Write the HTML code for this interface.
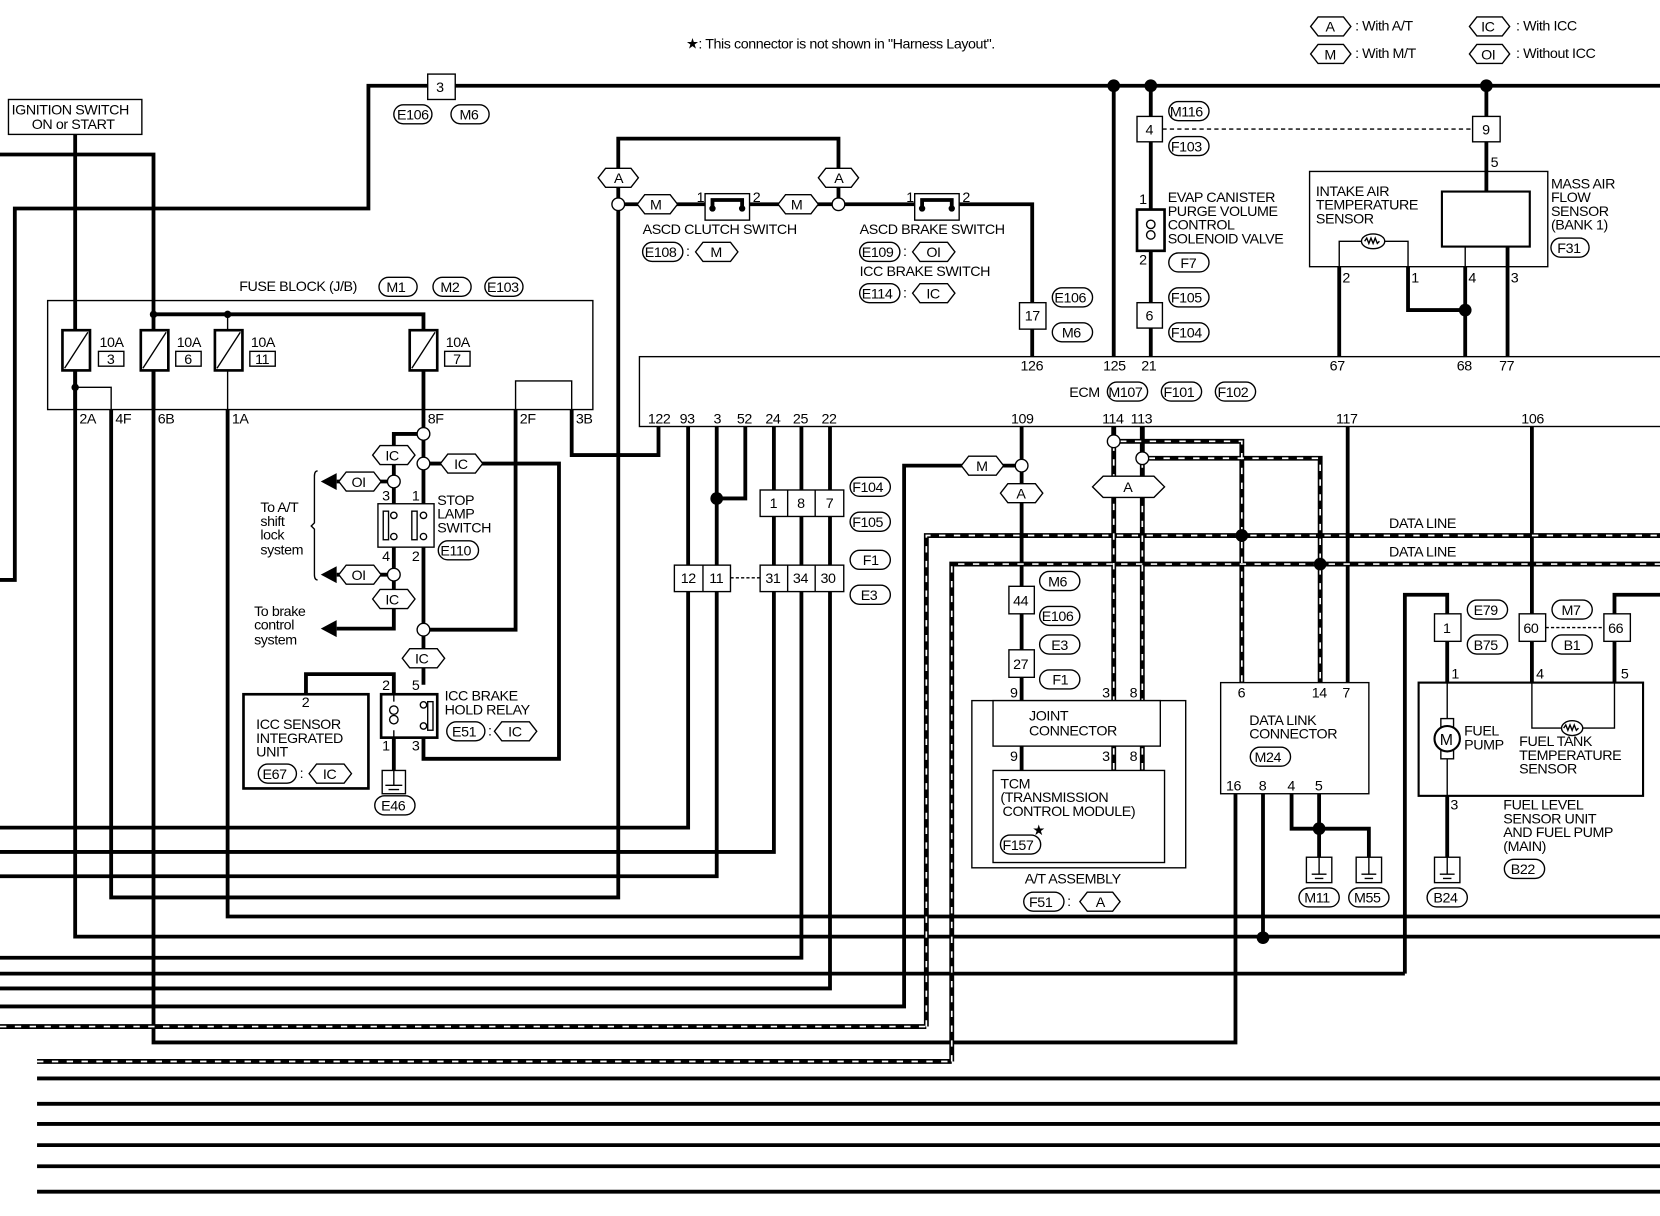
<!DOCTYPE html>
<html><head><meta charset="utf-8"><style>
html,body{margin:0;padding:0;background:#fff}
svg{display:block}
text{font-family:"Liberation Sans",sans-serif;font-size:13px;fill:#000;letter-spacing:-0.4px}
.s{font-size:13.5px}
.t{stroke:#000;stroke-width:3.6;fill:none}
.n{stroke:#000;stroke-width:1.3;fill:none}
.b{stroke:#000;stroke-width:1.3;fill:#fff}
.dl{stroke:#000;stroke-width:4.6;fill:none}
.dw{stroke:#fff;stroke-width:1.6;fill:none;stroke-dasharray:6 8}
</style></head><body>
<svg width="1660" height="1216" viewBox="0 0 1568 1149" preserveAspectRatio="none" xmlns="http://www.w3.org/2000/svg">
<!-- legend -->
<text x="648" y="46" class="s">★: This connector is not shown in "Harness Layout".</text>
<polygon class="b" points="1238,25 1245,16 1269,16 1276,25 1269,34 1245,34"/><text x="1252" y="30" class="s">A</text><text x="1280" y="29" class="s">: With A/T</text>
<polygon class="b" points="1238,51 1245,42 1269,42 1276,51 1269,60 1245,60"/><text x="1251" y="56" class="s">M</text><text x="1280" y="55" class="s">: With M/T</text>
<polygon class="b" points="1388,25 1395,16 1419,16 1426,25 1419,34 1395,34"/><text x="1399" y="30" class="s">IC</text><text x="1432" y="29" class="s">: With ICC</text>
<polygon class="b" points="1388,51 1395,42 1419,42 1426,51 1419,60 1395,60"/><text x="1399" y="56" class="s">OI</text><text x="1432" y="55" class="s">: Without ICC</text>

<!-- top bus -->
<path class="t" d="M0,548 H14 V197 H348 V81 H1568"/>
<rect class="b" x="404" y="70" width="26" height="24"/><text x="412" y="87" class="s">3</text>
<rect class="b" x="372" y="99" width="36" height="18" rx="9"/><text x="375" y="113" class="s">E106</text>
<rect class="b" x="426" y="99" width="36" height="18" rx="9"/><text x="434" y="113" class="s">M6</text>
<circle cx="1052" cy="81" r="6"/><circle cx="1087" cy="81" r="6"/><circle cx="1404" cy="81" r="6"/>

<!-- ignition -->
<rect class="n" x="8" y="94" width="126" height="33"/>
<text x="11" y="108" class="s">IGNITION SWITCH</text><text x="30" y="122" class="s">ON or START</text>
<path class="t" d="M71,127 V885 H1568"/>
<path class="t" d="M0,146 H145 V985 H1167 V750"/>

<!-- fuse block -->
<text x="226" y="275" class="s">FUSE BLOCK (J/B)</text>
<rect class="b" x="358" y="262" width="36" height="18" rx="9"/><text x="365" y="276" class="s">M1</text>
<rect class="b" x="409" y="262" width="36" height="18" rx="9"/><text x="416" y="276" class="s">M2</text>
<rect class="b" x="458" y="262" width="36" height="18" rx="9"/><text x="460" y="276" class="s">E103</text>
<rect class="n" x="45" y="284" width="515" height="103"/>
<path class="t" d="M145,297 H400 V312"/>
<circle cx="145" cy="297" r="3.5"/><circle cx="215" cy="297" r="3.5"/>
<path class="n" d="M215,297 V312"/>
<g>
<rect class="b" x="59" y="312" width="26" height="38" style="stroke-width:2.5"/><line class="n" x1="61" y1="348" x2="83" y2="314"/>
<text x="94" y="328" class="s">10A</text><rect class="n" x="93" y="332" width="24" height="14"/><text x="101" y="344" class="s">3</text>
<rect class="b" x="133" y="312" width="26" height="38" style="stroke-width:2.5"/><line class="n" x1="135" y1="348" x2="157" y2="314"/>
<text x="167" y="328" class="s">10A</text><rect class="n" x="166" y="332" width="24" height="14"/><text x="174" y="344" class="s">6</text>
<rect class="b" x="203" y="312" width="26" height="38" style="stroke-width:2.5"/><line class="n" x1="205" y1="348" x2="227" y2="314"/>
<text x="237" y="328" class="s">10A</text><rect class="n" x="236" y="332" width="24" height="14"/><text x="241" y="344" class="s">11</text>
<rect class="b" x="387" y="312" width="26" height="38" style="stroke-width:2.5"/><line class="n" x1="389" y1="348" x2="411" y2="314"/>
<text x="421" y="328" class="s">10A</text><rect class="n" x="420" y="332" width="24" height="14"/><text x="428" y="344" class="s">7</text>
</g>
<path class="t" d="M71,350 V387"/><path class="t" d="M145,350 V387"/><path class="n" d="M215,350 V387"/>
<circle cx="71" cy="366" r="3.5"/><path class="n" d="M71,366 H105 V387"/>
<path class="n" d="M487,387 V360 H540 V387"/>
<text x="75" y="400" class="s">2A</text><text x="109" y="400" class="s">4F</text><text x="149" y="400" class="s">6B</text><text x="219" y="400" class="s">1A</text><text x="404" y="400" class="s">8F</text><text x="491" y="400" class="s">2F</text><text x="544" y="400" class="s">3B</text>
<path class="t" d="M105,387 V848 H584 V193"/>
<path class="t" d="M215,387 V866 H1568"/>
<path class="t" d="M540,387 V430 H622 V403"/>
<path class="t" d="M487,387 V595 H400"/>

<!-- stop lamp / relay section -->
<path class="t" d="M400,350 V476"/>
<path class="t" d="M400,410 H372 V476"/>
<circle class="b" cx="400" cy="410" r="6"/>
<polygon class="b" points="352,430 359,421 385,421 392,430 385,439 359,439"/><text x="364" y="435" class="s">IC</text>
<circle class="b" cx="400" cy="438" r="6"/>
<path class="t" d="M406,438 H528 V717 H400 V697"/>
<polygon class="b" points="416,438 423,429 449,429 456,438 449,447 423,447"/><text x="429" y="443" class="s">IC</text>
<circle class="b" cx="372" cy="455" r="6"/>
<path class="t" d="M366,455 H318"/><polygon points="303,455 318,447 318,463"/>
<polygon class="b" points="320,455 327,446 353,446 360,455 353,464 327,464"/><text x="332" y="460" class="s">OI</text>
<text x="361" y="473" class="s">3</text><text x="389" y="473" class="s">1</text>
<rect class="n" x="357" y="476" width="53" height="41"/>
<rect class="n" x="362" y="483" width="5" height="27"/><rect class="n" x="389" y="483" width="5" height="27"/>
<circle class="b" cx="372" cy="487" r="3"/><circle class="b" cx="372" cy="507" r="3"/><circle class="b" cx="400" cy="487" r="3"/><circle class="b" cx="400" cy="507" r="3"/>
<text x="413" y="477" class="s">STOP</text><text x="413" y="490" class="s">LAMP</text><text x="413" y="503" class="s">SWITCH</text>
<rect class="b" x="414" y="511" width="38" height="18" rx="9"/><text x="416" y="525" class="s">E110</text>
<text x="361" y="530" class="s">4</text><text x="389" y="530" class="s">2</text>
<path class="t" d="M372,517 V594 H318"/><polygon points="303,594 318,586 318,602"/>
<path class="t" d="M400,517 V647"/>
<circle class="b" cx="372" cy="543" r="6"/>
<path class="t" d="M366,543 H318"/><polygon points="303,543 318,535 318,551"/>
<polygon class="b" points="320,543 327,534 353,534 360,543 353,552 327,552"/><text x="332" y="548" class="s">OI</text>
<polygon class="b" points="352,566 359,557 385,557 392,566 385,575 359,575"/><text x="364" y="571" class="s">IC</text>
<path class="n" d="M300,445 Q297,445 297,450 V494 L294,497 L297,500 V543 Q297,548 300,548"/>
<text x="246" y="484" class="s">To A/T</text><text x="246" y="497" class="s">shift</text><text x="246" y="510" class="s">lock</text><text x="246" y="524" class="s">system</text>
<text x="240" y="582" class="s">To brake</text><text x="240" y="595" class="s">control</text><text x="240" y="609" class="s">system</text>
<circle class="b" cx="400" cy="595" r="6"/>
<polygon class="b" points="380,622 387,613 413,613 420,622 413,631 387,631"/><text x="392" y="627" class="s">IC</text>
<path class="t" d="M372,656 V637 H289 V656"/>
<text x="361" y="652" class="s">2</text><text x="389" y="652" class="s">5</text>
<rect class="n" x="360" y="656" width="53" height="41" style="stroke-width:2.5"/>
<path class="n" d="M372,656 V663 M372,690 V697"/>
<circle class="n" cx="372" cy="671" r="4"/><circle class="n" cx="372" cy="680" r="4"/>
<rect class="n" x="404" y="663" width="5" height="27"/>
<circle class="b" cx="400" cy="666" r="3"/><circle class="b" cx="400" cy="686" r="3"/>
<text x="420" y="662" class="s">ICC BRAKE</text><text x="420" y="675" class="s">HOLD RELAY</text>
<rect class="b" x="422" y="682" width="36" height="18" rx="9"/><text x="427" y="696" class="s">E51</text><text x="461" y="695" class="s">:</text>
<polygon class="b" points="467,691 474,682 500,682 507,691 500,700 474,700"/><text x="480" y="696" class="s">IC</text>
<text x="361" y="709" class="s">1</text><text x="389" y="709" class="s">3</text>
<path class="t" d="M372,697 V728"/>
<rect class="n" x="361" y="728" width="22" height="22"/><path class="n" d="M372,728 V742 M364,742 H380 M367,746 H377"/>
<rect class="b" x="354" y="752" width="38" height="18" rx="9"/><text x="360" y="766" class="s">E46</text>
<rect class="n" x="230" y="656" width="118" height="89" style="stroke-width:2.5"/>
<text x="285" y="668" class="s">2</text>
<text x="242" y="689" class="s">ICC SENSOR</text><text x="242" y="702" class="s">INTEGRATED</text><text x="242" y="715" class="s">UNIT</text>
<rect class="b" x="244" y="722" width="36" height="18" rx="9"/><text x="248" y="736" class="s">E67</text><text x="283" y="735" class="s">:</text>
<polygon class="b" points="292,731 299,722 325,722 332,731 325,740 299,740"/><text x="305" y="736" class="s">IC</text>

<!-- ASCD switches -->
<path class="t" d="M584,193 V131 H792 V193 H975 V337"/>
<path class="t" d="M590,193 H680 M698,193 H786"/>
<polygon class="b" points="565,168 572,159 596,159 603,168 596,177 572,177"/><text x="580" y="173" class="s">A</text>
<polygon class="b" points="773,168 780,159 804,159 811,168 804,177 780,177"/><text x="788" y="173" class="s">A</text>
<circle class="b" cx="584" cy="193" r="6"/><circle class="b" cx="792" cy="193" r="6"/>
<polygon class="b" points="602,193 609,184 633,184 640,193 633,202 609,202"/><text x="614" y="198" class="s">M</text>
<polygon class="b" points="735,193 742,184 766,184 773,193 766,202 742,202"/><text x="747" y="198" class="s">M</text>
<rect class="b" x="666" y="183" width="42" height="25"/><path class="t" d="M673,196 V189 H701 V196"/><circle cx="673" cy="197" r="3"/><circle cx="701" cy="197" r="3"/>
<rect class="b" x="864" y="183" width="42" height="25"/><path class="t" d="M871,196 V189 H899 V196"/><circle cx="871" cy="197" r="3"/><circle cx="899" cy="197" r="3"/>
<text x="658" y="191" class="s">1</text><text x="711" y="191" class="s">2</text><text x="856" y="191" class="s">1</text><text x="909" y="191" class="s">2</text>
<text x="607" y="221" class="s">ASCD CLUTCH SWITCH</text>
<rect class="b" x="607" y="229" width="38" height="18" rx="9"/><text x="609" y="243" class="s">E108</text><text x="648" y="242" class="s">:</text>
<polygon class="b" points="657,238 664,229 690,229 697,238 690,247 664,247"/><text x="671" y="243" class="s">M</text>
<text x="812" y="221" class="s">ASCD BRAKE SWITCH</text>
<rect class="b" x="812" y="229" width="38" height="18" rx="9"/><text x="814" y="243" class="s">E109</text><text x="853" y="242" class="s">:</text>
<polygon class="b" points="862,238 869,229 895,229 902,238 895,247 869,247"/><text x="875" y="243" class="s">OI</text>
<text x="812" y="261" class="s">ICC BRAKE SWITCH</text>
<rect class="b" x="812" y="268" width="38" height="18" rx="9"/><text x="814" y="282" class="s">E114</text><text x="853" y="281" class="s">:</text>
<polygon class="b" points="862,277 869,268 895,268 902,277 895,286 869,286"/><text x="875" y="282" class="s">IC</text>
<rect class="b" x="963" y="286" width="25" height="25"/><text x="968" y="303" class="s">17</text>
<rect class="b" x="994" y="272" width="38" height="18" rx="9"/><text x="996" y="286" class="s">E106</text>
<rect class="b" x="994" y="305" width="38" height="18" rx="9"/><text x="1003" y="319" class="s">M6</text>

<!-- EVAP -->
<path class="t" d="M1052,81 V337"/>
<path class="t" d="M1087,81 V337"/>
<rect class="b" x="1074" y="110" width="24" height="24"/><text x="1082" y="127" class="s">4</text>
<path class="n" d="M1098,122 H1391" style="stroke-dasharray:4 3"/>
<rect class="b" x="1104" y="96" width="38" height="18" rx="9"/><text x="1105" y="110" class="s">M116</text>
<rect class="b" x="1104" y="129" width="38" height="18" rx="9"/><text x="1106" y="143" class="s">F103</text>
<text x="1076" y="193" class="s">1</text><text x="1076" y="250" class="s">2</text>
<rect class="b" x="1074" y="198" width="26" height="39" style="stroke-width:2.5"/>
<circle class="n" cx="1087" cy="212" r="4"/><circle class="n" cx="1087" cy="222" r="4"/>
<text x="1103" y="191" class="s">EVAP CANISTER</text><text x="1103" y="204" class="s">PURGE VOLUME</text><text x="1103" y="217" class="s">CONTROL</text><text x="1103" y="230" class="s">SOLENOID VALVE</text>
<rect class="b" x="1104" y="239" width="38" height="18" rx="9"/><text x="1115" y="253" class="s">F7</text>
<rect class="b" x="1104" y="272" width="38" height="18" rx="9"/><text x="1106" y="286" class="s">F105</text>
<rect class="b" x="1074" y="286" width="24" height="24"/><text x="1082" y="303" class="s">6</text>
<rect class="b" x="1104" y="305" width="38" height="18" rx="9"/><text x="1106" y="319" class="s">F104</text>

<!-- MAF -->
<path class="t" d="M1404,81 V181"/>
<rect class="b" x="1391" y="110" width="26" height="24"/><text x="1400" y="127" class="s">9</text>
<text x="1408" y="158" class="s">5</text>
<rect class="n" x="1237" y="162" width="225" height="90"/>
<rect class="n" x="1362" y="181" width="83" height="52" style="stroke-width:2"/>
<path class="n" d="M1384,233 V252"/><path class="t" d="M1424,233 V337 M1384,252 V337"/>
<text x="1243" y="185" class="s">INTAKE AIR</text><text x="1243" y="198" class="s">TEMPERATURE</text><text x="1243" y="211" class="s">SENSOR</text>
<text x="1465" y="178" class="s">MASS AIR</text><text x="1465" y="191" class="s">FLOW</text><text x="1465" y="204" class="s">SENSOR</text><text x="1465" y="217" class="s">(BANK 1)</text>
<rect class="b" x="1465" y="225" width="36" height="18" rx="9"/><text x="1471" y="239" class="s">F31</text>
<path class="n" d="M1265,252 V228 H1286 M1308,228 H1330 V252"/>
<ellipse class="b" cx="1297" cy="228" rx="11" ry="7"/><path class="n" d="M1289,228 l2,-3 2,5 2,-5 2,5 2,-5 2,5 2,-2"/>
<path class="t" d="M1265,252 V337 M1330,252 V293 H1384"/><circle cx="1384" cy="293" r="6"/>
<text x="1268" y="267" class="s">2</text><text x="1333" y="267" class="s">1</text><text x="1387" y="267" class="s">4</text><text x="1427" y="267" class="s">3</text>

<!-- ECM -->
<rect class="n" x="604" y="337" width="980" height="66"/>
<text x="964" y="350" class="s">126</text><text x="1042" y="350" class="s">125</text><text x="1078" y="350" class="s">21</text><text x="1256" y="350" class="s">67</text><text x="1376" y="350" class="s">68</text><text x="1416" y="350" class="s">77</text>
<text x="1010" y="375" class="s">ECM</text>
<rect class="b" x="1046" y="361" width="38" height="18" rx="9"/><text x="1047" y="375" class="s">M107</text>
<rect class="b" x="1097" y="361" width="38" height="18" rx="9"/><text x="1099" y="375" class="s">F101</text>
<rect class="b" x="1148" y="361" width="38" height="18" rx="9"/><text x="1150" y="375" class="s">F102</text>
<text x="612" y="400" class="s">122</text><text x="642" y="400" class="s">93</text><text x="674" y="400" class="s">3</text><text x="696" y="400" class="s">52</text><text x="723" y="400" class="s">24</text><text x="749" y="400" class="s">25</text><text x="776" y="400" class="s">22</text>
<text x="955" y="400" class="s">109</text><text x="1041" y="400" class="s">114</text><text x="1068" y="400" class="s">113</text><text x="1262" y="400" class="s">117</text><text x="1437" y="400" class="s">106</text>

<!-- ECM lower wires -->
<path class="t" d="M650,403 V782 H0"/>
<path class="t" d="M677,403 V828 H0"/>
<path class="t" d="M704,403 V471 H677"/><circle cx="677" cy="471" r="6"/>
<path class="t" d="M731,403 V805 H0"/>
<path class="t" d="M757,403 V905 H0"/>
<path class="t" d="M784,403 V934 H0"/>
<rect class="b" x="718" y="463" width="79" height="25"/><path class="n" d="M744,463 V488 M770,463 V488"/>
<text x="727" y="480" class="s">1</text><text x="753" y="480" class="s">8</text><text x="780" y="480" class="s">7</text>
<rect class="b" x="803" y="451" width="38" height="18" rx="9"/><text x="805" y="465" class="s">F104</text>
<rect class="b" x="803" y="484" width="38" height="18" rx="9"/><text x="805" y="498" class="s">F105</text>
<rect class="b" x="637" y="534" width="53" height="25"/><path class="n" d="M664,534 V559"/>
<text x="643" y="551" class="s">12</text><text x="670" y="551" class="s">11</text>
<path class="n" d="M690,546 H718" style="stroke-dasharray:3 2"/>
<rect class="b" x="718" y="534" width="79" height="25"/><path class="n" d="M744,534 V559 M770,534 V559"/>
<text x="723" y="551" class="s">31</text><text x="749" y="551" class="s">34</text><text x="775" y="551" class="s">30</text>
<rect class="b" x="803" y="520" width="38" height="18" rx="9"/><text x="815" y="534" class="s">F1</text>
<rect class="b" x="803" y="553" width="38" height="18" rx="9"/><text x="813" y="567" class="s">E3</text>

<!-- 109 -->
<path class="t" d="M965,403 V662"/>
<path class="t" d="M959,440 H854 V951 H0"/>
<circle class="b" cx="965" cy="440" r="6"/>
<polygon class="b" points="908,440 915,431 941,431 948,440 941,449 915,449"/><text x="922" y="445" class="s">M</text>
<polygon class="b" points="945,466 952,457 978,457 985,466 978,475 952,475"/><text x="960" y="471" class="s">A</text>
<rect class="b" x="953" y="554" width="24" height="26"/><text x="957" y="572" class="s">44</text>
<rect class="b" x="953" y="614" width="24" height="26"/><text x="957" y="632" class="s">27</text>
<rect class="b" x="982" y="540" width="38" height="18" rx="9"/><text x="990" y="554" class="s">M6</text>
<rect class="b" x="982" y="573" width="38" height="18" rx="9"/><text x="984" y="587" class="s">E106</text>
<rect class="b" x="982" y="600" width="38" height="18" rx="9"/><text x="993" y="614" class="s">E3</text>
<rect class="b" x="982" y="633" width="38" height="18" rx="9"/><text x="994" y="647" class="s">F1</text>

<!-- other wires -->
<path class="t" d="M1273,403 V645"/>
<path class="t" d="M1447,403 V645"/>
<path class="t" d="M1327,920 H0"/>
<path class="t" d="M1327,920 V562 H1367 V645"/>
<path class="t" d="M1525,645 V562 H1568"/>
<path class="t" d="M1367,752 V810"/>

<!-- data lines -->
<path class="dl" d="M1052,403 V662 M1079,403 V662 M1052,417 H1173 V645 M1079,433 H1247 V645 M875,970 V506 H1568 M899,1003 V533 H1568 M0,970 H875 M35,1003 H899 M1052,705 V728 M1079,705 V728"/>
<path class="dw" d="M1052,420 V662 M1079,436 V662 M1058,417 H1173 V645 M1085,433 H1247 V645 M875,970 V506 H1568 M899,1003 V533 H1568 M0,970 H875 M35,1003 H899 M1052,707 V728 M1079,707 V728"/>
<circle class="b" cx="1052" cy="417" r="6"/><circle class="b" cx="1079" cy="433" r="6"/>
<circle cx="1173" cy="506" r="6"/><circle cx="1247" cy="533" r="6"/>
<polygon class="b" points="1032,460 1042,450 1090,450 1100,460 1090,470 1042,470"/><text x="1061" y="465" class="s">A</text>
<text x="1312" y="499" class="s">DATA LINE</text><text x="1312" y="526" class="s">DATA LINE</text>

<!-- A/T assembly -->
<rect class="n" x="918" y="662" width="202" height="158"/>
<rect class="b" x="938" y="662" width="158" height="43"/>
<text x="972" y="681" class="s">JOINT</text><text x="972" y="695" class="s">CONNECTOR</text>
<text x="954" y="659" class="s">9</text><text x="1041" y="659" class="s">3</text><text x="1067" y="659" class="s">8</text>
<text x="954" y="719" class="s">9</text><text x="1041" y="719" class="s">3</text><text x="1067" y="719" class="s">8</text>
<path class="t" d="M965,705 V728"/>
<rect class="b" x="938" y="728" width="162" height="87"/>
<text x="945" y="745" class="s">TCM</text><text x="945" y="758" class="s">(TRANSMISSION</text><text x="947" y="771" class="s">CONTROL MODULE)</text>
<text x="975" y="789" class="s">★</text>
<rect class="b" x="945" y="789" width="38" height="18" rx="9"/><text x="947" y="803" class="s">F157</text>
<text x="968" y="835" class="s">A/T ASSEMBLY</text>
<rect class="b" x="967" y="843" width="38" height="18" rx="9"/><text x="972" y="857" class="s">F51</text><text x="1008" y="856" class="s">:</text>
<polygon class="b" points="1020,852 1027,843 1051,843 1058,852 1051,861 1027,861"/><text x="1035" y="857" class="s">A</text>

<!-- Data link connector -->
<rect class="n" x="1153" y="645" width="140" height="105"/>
<text x="1169" y="659" class="s">6</text><text x="1239" y="659" class="s">14</text><text x="1268" y="659" class="s">7</text>
<text x="1180" y="685" class="s">DATA LINK</text><text x="1180" y="698" class="s">CONNECTOR</text>
<rect class="b" x="1181" y="706" width="38" height="18" rx="9"/><text x="1185" y="720" class="s">M24</text>
<text x="1158" y="747" class="s">16</text><text x="1189" y="747" class="s">8</text><text x="1216" y="747" class="s">4</text><text x="1242" y="747" class="s">5</text>
<path class="t" d="M1193,750 V886"/><circle cx="1193" cy="886" r="6"/>
<path class="t" d="M1220,750 V783 H1293 V810 M1246,750 V810"/><circle cx="1246" cy="783" r="6"/>
<rect class="n" x="1234" y="810" width="24" height="24"/><path class="n" d="M1246,810 V826 M1239,826 H1253 M1242,830 H1250"/>
<rect class="n" x="1281" y="810" width="24" height="24"/><path class="n" d="M1293,810 V826 M1286,826 H1300 M1289,830 H1297"/>
<rect class="b" x="1227" y="839" width="38" height="18" rx="9"/><text x="1232" y="853" class="s">M11</text>
<rect class="b" x="1274" y="839" width="38" height="18" rx="9"/><text x="1279" y="853" class="s">M55</text>

<!-- Fuel pump -->
<rect class="b" x="1355" y="580" width="25" height="26"/><text x="1363" y="598" class="s">1</text>
<rect class="b" x="1435" y="580" width="25" height="26"/><text x="1439" y="598" class="s">60</text>
<rect class="b" x="1515" y="580" width="25" height="26"/><text x="1519" y="598" class="s">66</text>
<path class="n" d="M1460,593 H1515" style="stroke-dasharray:3 2"/>
<rect class="b" x="1386" y="567" width="38" height="18" rx="9"/><text x="1392" y="581" class="s">E79</text>
<rect class="b" x="1386" y="600" width="38" height="18" rx="9"/><text x="1392" y="614" class="s">B75</text>
<rect class="b" x="1466" y="567" width="38" height="18" rx="9"/><text x="1475" y="581" class="s">M7</text>
<rect class="b" x="1466" y="600" width="38" height="18" rx="9"/><text x="1477" y="614" class="s">B1</text>
<text x="1371" y="641" class="s">1</text><text x="1451" y="641" class="s">4</text><text x="1531" y="641" class="s">5</text>
<rect class="n" x="1340" y="645" width="212" height="107" style="stroke-width:2"/>
<path class="n" d="M1367,645 V752"/>
<path class="n" d="M1447,645 V688 H1476 M1494,688 H1525 V645"/>
<ellipse class="b" cx="1485" cy="688" rx="10" ry="7"/><path class="n" d="M1477,688 l2,-3 2,5 2,-5 2,5 2,-5 2,5 2,-2"/>
<rect class="b" x="1361" y="679" width="12" height="38"/>
<circle class="b" cx="1367" cy="698" r="12" style="stroke-width:2"/><text x="1360" y="704" style="font-size:15px">M</text>
<text x="1383" y="695" class="s">FUEL</text><text x="1383" y="708" class="s">PUMP</text>
<text x="1435" y="705" class="s">FUEL TANK</text><text x="1435" y="718" class="s">TEMPERATURE</text><text x="1435" y="731" class="s">SENSOR</text>
<text x="1370" y="765" class="s">3</text>
<text x="1420" y="765" class="s">FUEL LEVEL</text><text x="1420" y="778" class="s">SENSOR UNIT</text><text x="1420" y="791" class="s">AND FUEL PUMP</text><text x="1420" y="804" class="s">(MAIN)</text>
<rect class="b" x="1421" y="812" width="38" height="18" rx="9"/><text x="1427" y="826" class="s">B22</text>
<rect class="n" x="1355" y="810" width="24" height="24"/><path class="n" d="M1367,810 V826 M1360,826 H1374 M1363,830 H1371"/>
<rect class="b" x="1348" y="839" width="38" height="18" rx="9"/><text x="1354" y="853" class="s">B24</text>

<!-- bottom bus -->
<path class="t" d="M35,1019 H1568 M35,1043 H1568 M35,1062 H1568 M35,1082 H1568 M35,1102 H1568 M35,1126 H1568"/>
</svg>
</body></html>
